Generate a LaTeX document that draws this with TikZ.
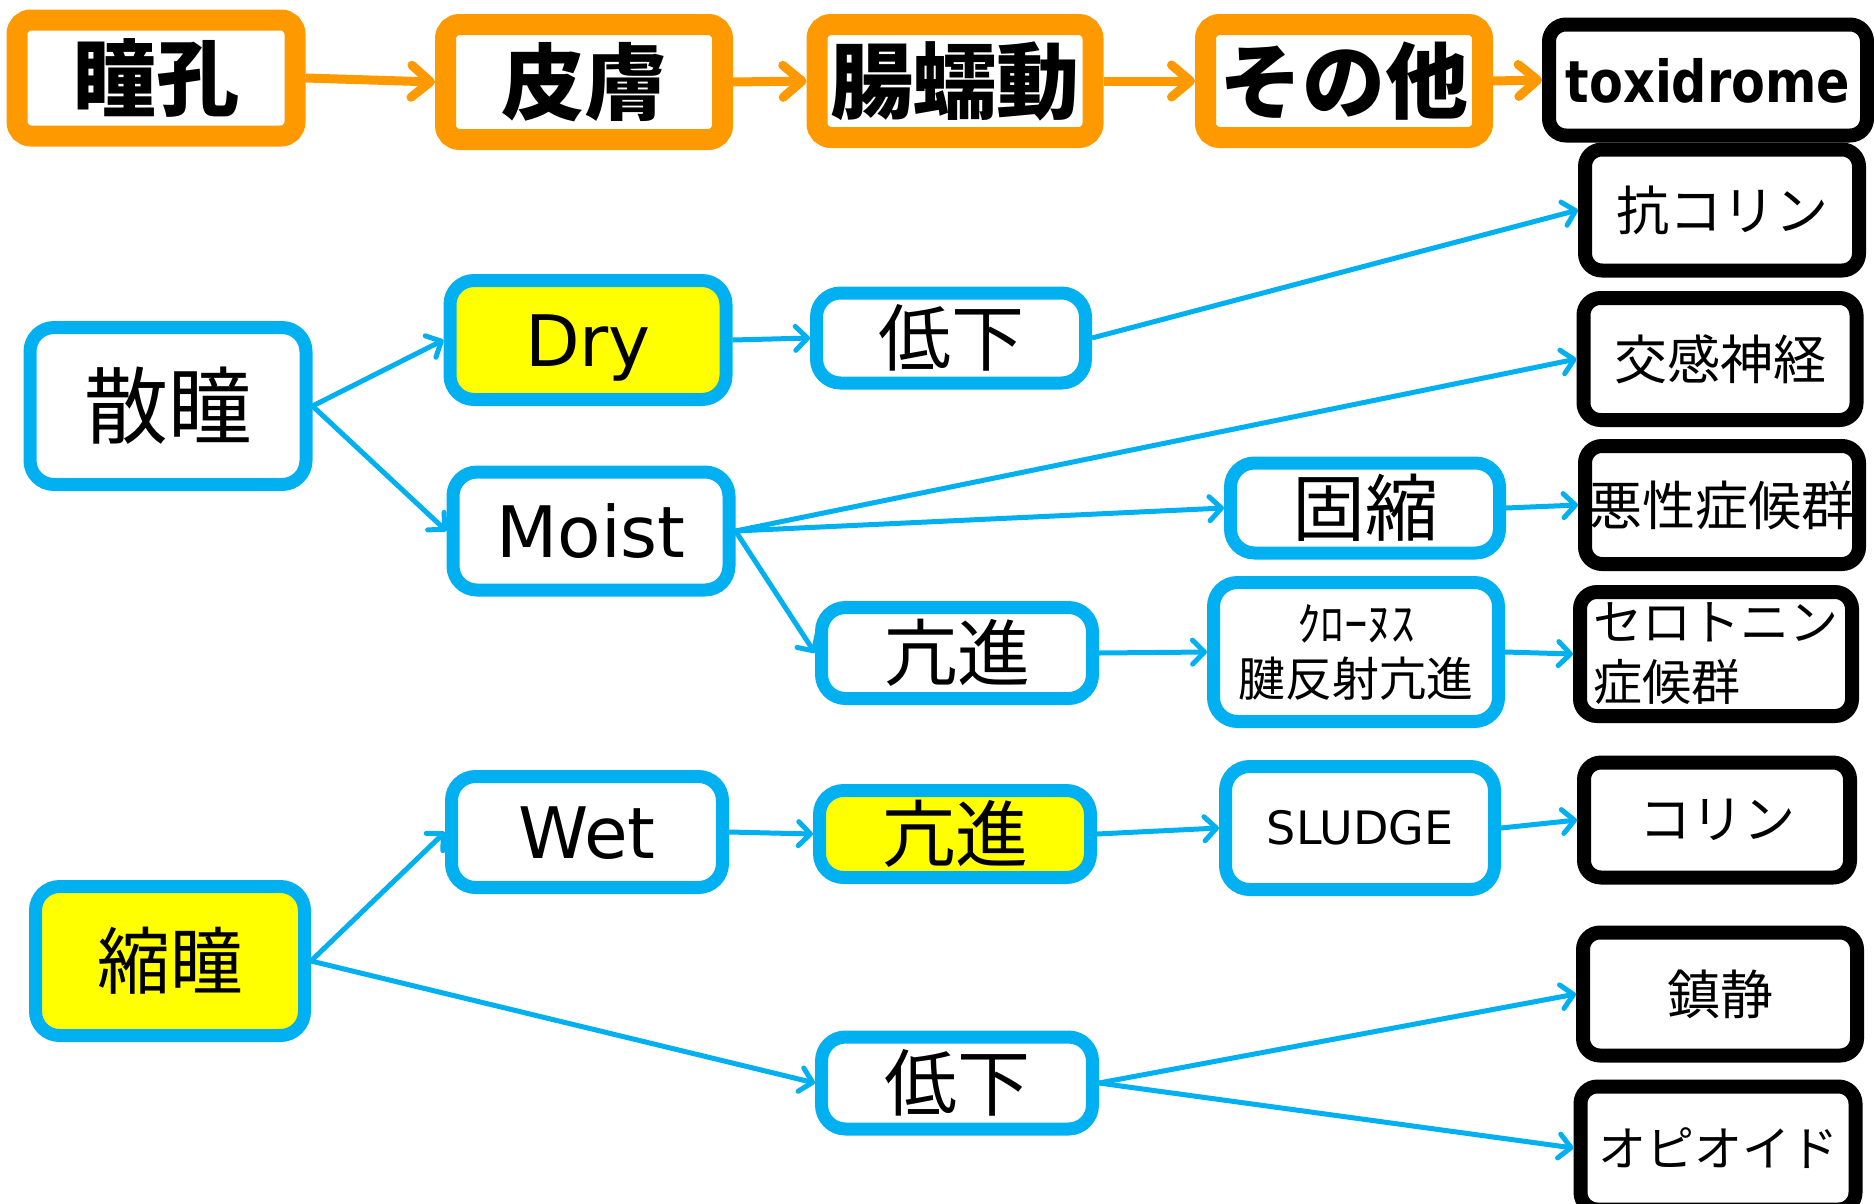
\documentclass[tikz,border=0pt]{standalone}
\usepackage{fontspec}
\newfontfamily\jp{Noto Sans CJK JP}
\newfontfamily\vd{DejaVu Sans}
\newfontfamily\vdn[FakeStretch=0.85]{DejaVu Sans}
\usetikzlibrary{arrows.meta}
\definecolor{oran}{HTML}{FF9900}
\definecolor{bblue}{HTML}{00B0F0}
\definecolor{yel}{HTML}{FFFF00}
\tikzset{
 obox/.style={draw=oran, line width=21pt, rounded corners=14pt, fill=white, inner sep=0pt, font=\jp\bfseries\fontsize{83}{90}\selectfont},
 bbox/.style={draw=bblue, line width=13pt, rounded corners=24pt, fill=white, inner sep=0pt, font=\jp\fontsize{73}{80}\selectfont},
 kbox/.style={draw=black, line width=14pt, rounded corners=17pt, fill=white, inner sep=0pt, font=\jp\fontsize{53}{60}\selectfont},
 latin/.style={font=\vd\fontsize{71}{80}\selectfont, text height=52pt, text depth=0pt},
 sz/.style 2 args={minimum width=#1pt, minimum height=#2pt},
 oarr/.style={draw=oran, line width=9pt, -{Straight Barb[length=19pt,width=32pt,line cap=round,line join=round]}},
 barr/.style={draw=bblue, line width=5pt, -{Straight Barb[length=12pt,width=24pt,line cap=round,line join=round]}}
}
\begin{document}
\begin{tikzpicture}[x=1pt,y=-1pt]
\useasboundingbox (0,0) rectangle (1874,1203);
\clip (0,0) rectangle (1874,1203);
% top row
\node[obox, sz={278}{116}] (pupil) at (156,78) {瞳孔};
\node[obox, sz={277}{115}] (skin) at (584,82) {皮膚};
\node[obox, sz={276}{113}] (bowel) at (955,81) {腸蠕動};
\node[obox, sz={277}{113}] (other) at (1344,81) {その他};
\node[kbox, sz={318}{111}, font=\vdn\bfseries\fontsize{58}{60}\selectfont, text height=44pt, text depth=0pt] (toxi) at (1708,80) {toxidrome};
% blue boxes
\node[bbox, sz={276}{157}, font=\jp\fontsize{84}{90}\selectfont] (sando) at (168,406) {散瞳};
\node[bbox, latin, sz={276}{119}, fill=yel] (dry) at (588,340) {Dry};
\node[bbox, latin, sz={276}{118}] (moist) at (591,531) {Moist};
\node[bbox, sz={269}{90}] (teika1) at (951,338) {低下};
\node[bbox, sz={269}{90}] (koshuku) at (1365,508) {固縮};
\node[bbox, sz={271}{91}] (koshin1) at (957,653) {亢進};
\node[bbox, sz={285}{139}, align=center, font=\jp\fontsize{47}{55}\selectfont] (clonus) at (1356,652) {ｸﾛｰﾇｽ\\腱反射亢進};
\node[bbox, latin, sz={271}{111}] (wet) at (587,832) {Wet};
\node[bbox, sz={271}{87}, fill=yel] (koshin2) at (955,834) {亢進};
\node[bbox, sz={269}{123}, font=\vd\fontsize{46}{50}\selectfont, text height=33.5pt, text depth=0pt] (sludge) at (1360,828) {SLUDGE};
\node[bbox, sz={269}{149}, fill=yel] (shukudo) at (170,961) {縮瞳};
\node[bbox, sz={271}{92}] (teika2) at (957,1083) {低下};
% black boxes
\node[kbox, sz={274}{121}] (anticho) at (1722,210) {抗コリン};
\node[kbox, sz={273}{122}] (sympa) at (1720,359) {交感神経};
\node[kbox, sz={274}{118}] (nms) at (1722,505) {悪性症候群};
\node[kbox, sz={272}{124}, align=left, font=\jp\fontsize{49}{60}\selectfont] (sero) at (1716,654) {セロトニン\\症候群};
\node[kbox, sz={266}{115}, font=\jp\fontsize{52}{60}\selectfont] (cholin) at (1717,820) {コリン};
\node[kbox, sz={274}{123}] (sed) at (1720,994) {鎮静};
\node[kbox, sz={275}{123}, font=\jp\fontsize{48}{60}\selectfont] (opioid) at (1718,1148) {オピオイド};
% orange connectors
\draw[oarr] (pupil.east) -- (skin.west);
\draw[oarr] (skin.east) -- (bowel.west);
\draw[oarr] (bowel.east) -- (other.west);
\draw[oarr] (other.east) -- (toxi.west);
% blue connectors
\draw[barr] (sando.east) -- (dry.west);
\draw[barr] (sando.east) -- (moist.west);
\draw[barr] (dry.east) -- (teika1.west);
\draw[barr] (teika1.east) -- (anticho.west);
\draw[barr] (moist.east) -- (sympa.west);
\draw[barr] (moist.east) -- (koshuku.west);
\draw[barr] (moist.east) -- (koshin1.west);
\draw[barr] (koshuku.east) -- (nms.west);
\draw[barr] (koshin1.east) -- (clonus.west);
\draw[barr] (clonus.east) -- (sero.west);
\draw[barr] (shukudo.east) -- (wet.west);
\draw[barr] (shukudo.east) -- (teika2.west);
\draw[barr] (wet.east) -- (koshin2.west);
\draw[barr] (koshin2.east) -- (sludge.west);
\draw[barr] (sludge.east) -- (cholin.west);
\draw[barr] (teika2.east) -- (sed.west);
\draw[barr] (teika2.east) -- (opioid.west);
\end{tikzpicture}
\end{document}
